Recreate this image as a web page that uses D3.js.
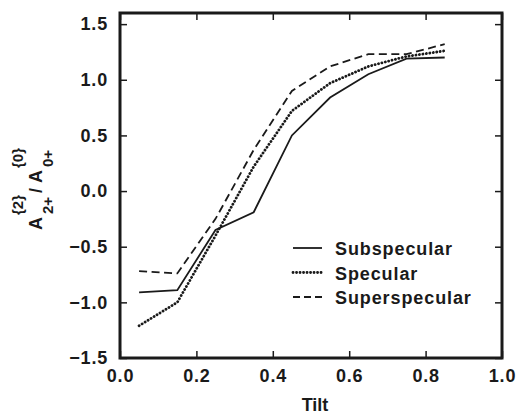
<!DOCTYPE html>
<html>
<head>
<meta charset="utf-8">
<script src="https://cdn.jsdelivr.net/npm/d3@7"></script>
<style>
	body { margin: 0; background: #fff; }
	text { font-family: "Liberation Sans", Arial, sans-serif; font-weight: bold; fill: #1a1a1a; }
</style>
</head>
<body>
<div id="chart"></div>
<script>
"use strict";

const width = 517, height = 415;

//---- Data
const tilt = [0.05, 0.15, 0.25, 0.35, 0.45, 0.55, 0.65, 0.75, 0.85];
const subspecular = [-0.91, -0.89, -0.35, -0.19, 0.50, 0.84, 1.05, 1.19, 1.20];
const specular = [-1.21, -1.00, -0.40, 0.22, 0.72, 0.97, 1.12, 1.21, 1.26];
const superspecular = [-0.72, -0.74, -0.25, 0.37, 0.90, 1.12, 1.23, 1.23, 1.32];
const seriesNames = ['Subspecular', 'Specular', 'Superspecular'];
const xTicks = [0.0, 0.2, 0.4, 0.6, 0.8, 1.0];
const yTicks = [-1.5, -1.0, -0.5, 0.0, 0.5, 1.0, 1.5];

const series = [subspecular, specular, superspecular].map((vals, i) => ({
	name: seriesNames[i],
	points: tilt.map((t, j) => [t, vals[j]])
}));

const dashes = ['none', '0.1 3.4', '8 4.5'];
const widths = [1.8, 2.8, 1.8];

//---- Chart
const svg = d3.select('#chart').append('svg')
	.attr('width', width)
	.attr('height', height);

const x = d3.scaleLinear().domain([0, 1]).range([120, 502]);
const y = d3.scaleLinear().domain([-1.5, 1.6]).range([358, 13]);

const fmt = d => d < 0 ? '\u2212' + Math.abs(d).toFixed(1) : d.toFixed(1);

const styleAxis = g => {
	g.select('.domain').remove();
	g.selectAll('line').attr('stroke', '#1a1a1a').attr('stroke-width', 1.5);
	g.selectAll('text')
		.style('font-size', '18px')
		.style('letter-spacing', '0.8px')
		.attr('fill', '#1a1a1a');
};

svg.append('g')
	.attr('transform', `translate(0,${y.range()[0]})`)
	.call(d3.axisBottom(x).tickValues(xTicks).tickFormat(fmt).tickSize(-7).tickPadding(11))
	.call(styleAxis);

svg.append('g')
	.attr('transform', `translate(0,${y.range()[1]})`)
	.call(d3.axisTop(x).tickValues(xTicks).tickFormat('').tickSize(-7))
	.call(styleAxis);

svg.append('g')
	.attr('transform', `translate(${x.range()[0]},0)`)
	.call(d3.axisLeft(y).tickValues(yTicks).tickFormat(fmt).tickSize(-7).tickPadding(12))
	.call(styleAxis);

svg.append('g')
	.attr('transform', `translate(${x.range()[1]},0)`)
	.call(d3.axisRight(y).tickValues(yTicks).tickFormat('').tickSize(-7))
	.call(styleAxis);

// frame
svg.append('rect')
	.attr('x', x.range()[0])
	.attr('y', y.range()[1])
	.attr('width', x.range()[1] - x.range()[0])
	.attr('height', y.range()[0] - y.range()[1])
	.attr('fill', 'none')
	.attr('stroke', '#1a1a1a')
	.attr('stroke-width', 3);

// lines
const line = d3.line().x(d => x(d[0])).y(d => y(d[1]));

svg.selectAll('.series')
	.data(series)
	.join('path')
	.classed('series', true)
	.attr('d', d => line(d.points))
	.attr('fill', 'none')
	.attr('stroke', '#1a1a1a')
	.attr('stroke-width', (d, i) => widths[i])
	.attr('stroke-linecap', (d, i) => i === 1 ? 'round' : 'butt')
	.attr('stroke-dasharray', (d, i) => dashes[i]);

// legend
const legend = svg.append('g').attr('transform', 'translate(293,248)');
const rows = legend.selectAll('g')
	.data(series)
	.join('g')
	.attr('transform', (d, i) => `translate(0,${i * 24.5})`);

rows.append('line')
	.attr('x1', 0).attr('x2', 29)
	.attr('stroke', '#1a1a1a')
	.attr('stroke-width', (d, i) => widths[i])
	.attr('stroke-linecap', (d, i) => i === 1 ? 'round' : 'butt')
	.attr('stroke-dasharray', (d, i) => i === 2 ? '7 4' : dashes[i]);

rows.append('text')
	.attr('x', 42)
	.attr('y', 7)
	.style('font-size', '18px')
	.style('letter-spacing', '0.9px')
	.text(d => d.name);

// x label
svg.append('text')
	.attr('x', 315)
	.attr('y', 411)
	.attr('text-anchor', 'middle')
	.style('font-size', '18px')
	.text('Tilt');

// y label: A^{2}_{2+} / A^{0}_{0+}
const ylab = svg.append('g').attr('transform', 'translate(42,230) rotate(-90)');
ylab.append('text').attr('x', 0).attr('y', 0).style('font-size', '18px').text('A');
ylab.append('text').attr('x', 15).attr('y', -19).style('font-size', '15px').text('{2}');
ylab.append('text').attr('x', 16).attr('y', 11).style('font-size', '15px').text('2+');
ylab.append('text').attr('x', 37).attr('y', 0).style('font-size', '18px').text('/');
ylab.append('text').attr('x', 47).attr('y', 0).style('font-size', '18px').text('A');
ylab.append('text').attr('x', 62).attr('y', -19).style('font-size', '15px').text('{0}');
ylab.append('text').attr('x', 63).attr('y', 11).style('font-size', '15px').text('0+');
</script>
</body>
</html>
